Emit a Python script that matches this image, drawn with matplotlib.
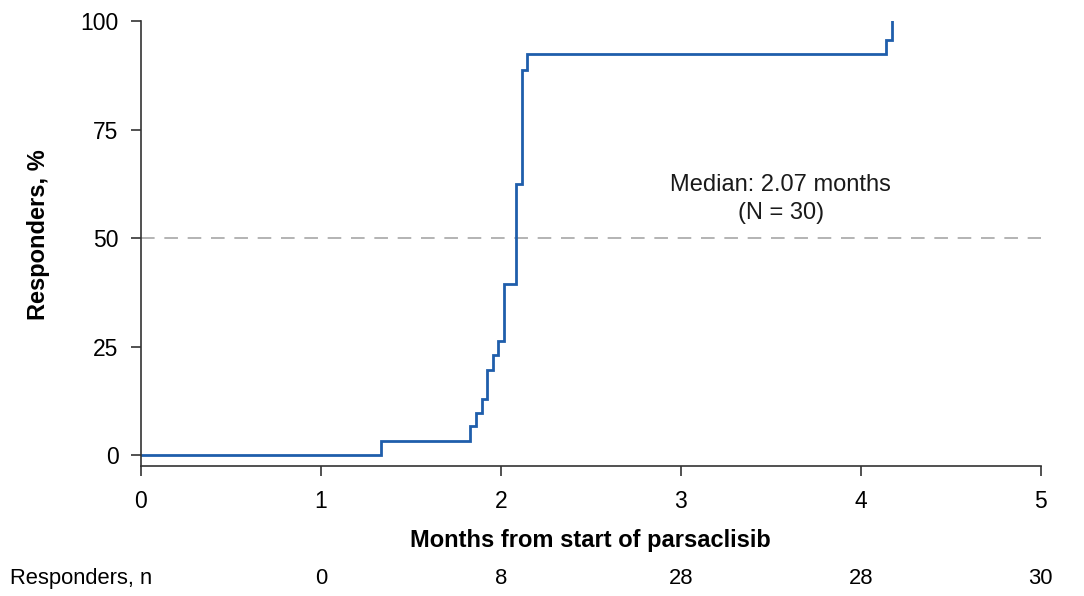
import matplotlib
matplotlib.use("Agg")
import matplotlib.pyplot as plt
import matplotlib.transforms as mtransforms

plt.rcParams['font.family'] = ['Liberation Sans', 'DejaVu Sans']

# Data
months = [0, 1.333, 1.828, 1.861, 1.896, 1.924, 1.954, 1.985, 2.017, 2.083, 2.117, 2.146, 4.142, 4.176]
responders_pct = [0, 3.3, 6.7, 9.6, 12.9, 19.6, 23.0, 26.3, 39.4, 62.4, 88.7, 92.4, 95.6, 100]
x_ticks = [0, 1, 2, 3, 4, 5]
y_ticks = [0, 25, 50, 75, 100]
risk_times = [1, 2, 3, 4, 5]
risk_counts = [0, 8, 28, 28, 30]
median_text = "Median: 2.07 months\n(N = 30)"

fig = plt.figure(figsize=(10.84, 5.96), dpi=100)
ax = fig.add_axes([0.130, 0.2181, 0.830, 0.7467])

ax.step(months, responders_pct, where='post', color='#1f5eab', lw=2.0, solid_joinstyle='miter')
ax.axhline(50, color='#b3b3b3', lw=1.4, ls=(0, (7, 5)), zorder=0)

ax.text(3.556, 59.0, median_text, ha='center', va='center', fontsize=17, color='#1a1a1a', linespacing=1.3)

ax.set_xlim(0, 5)
ax.set_ylim(-2.5, 100)
ax.set_xticks(x_ticks)
ax.set_yticks(y_ticks)
ax.spines['top'].set_visible(False)
ax.spines['right'].set_visible(False)
ax.spines['left'].set_bounds(-2.5, 100)
for s in ('left', 'bottom'):
    ax.spines[s].set_color('#333333')
    ax.spines[s].set_linewidth(1.2)
ax.tick_params(axis='x', length=7, width=1.2, pad=10, labelsize=16.5, colors='#333333', labelcolor='black')
ax.tick_params(axis='y', length=7, width=1.2, pad=9, labelsize=16.5, colors='#333333', labelcolor='black')

ax.set_xlabel("Months from start of parsaclisib", fontsize=17, fontweight='bold', labelpad=12)
ax.set_ylabel("Responders, %", fontsize=17, fontweight='bold')
ax.yaxis.set_label_coords(-0.101, 0.52)

trans = mtransforms.blended_transform_factory(ax.transData, fig.transFigure)
fig.text(0.009, 0.030, "Responders, n", ha='left', va='center', fontsize=15.8)
for t, n in zip(risk_times, risk_counts):
    ax.text(t, 0.030, str(n), transform=trans, ha='center', va='center', fontsize=15.8, clip_on=False)

fig.savefig("out.png", dpi=100, facecolor='white')
